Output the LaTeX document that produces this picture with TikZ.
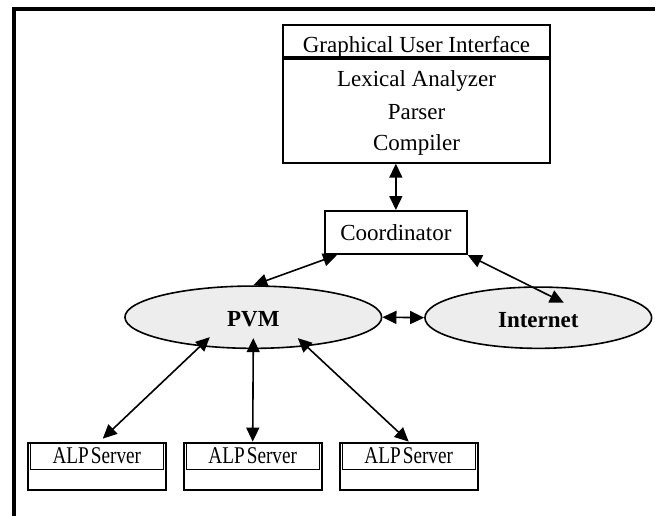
\documentclass[tikz,border=0pt]{standalone}
\usepackage{fontspec}
\setmainfont{Liberation Serif}
\newfontfamily\alpfont{Liberation Serif}[FakeStretch=0.8, WordSpace=0.45]
\usepackage{tikz}
\usetikzlibrary{arrows.meta}
\usetikzlibrary{shapes.geometric}
\definecolor{ovalgray}{gray}{0.93}
\tikzset{
  box/.style={draw, line width=2pt, inner sep=0pt},
  oval/.style={ellipse, draw, line width=1.6pt, fill=ovalgray, inner sep=0pt, text height=19pt, text depth=0pt, font=\bfseries},
  link/.style={{Triangle[length=14pt,width=13pt]}-{Triangle[length=14pt,width=13pt]}, line width=1.6pt},
  server/.style={draw, line width=2.2pt, minimum width=138pt, minimum height=47.6pt, inner sep=0pt},
  servertop/.style={draw, line width=1.1pt, minimum width=132.7pt, minimum height=27pt, inner sep=0pt, font=\alpfont\fontsize{24}{28}\selectfont}
}

\begin{document}
\begin{tikzpicture}[x=1pt,y=-1pt]
\fontsize{23}{28}\selectfont
\useasboundingbox (0,0) rectangle (655,516);
% frame
\draw[line width=4pt] (13.5,516) -- (13.5,9) -- (655,9);
% front end
\node[box, minimum width=266.7pt, minimum height=137.7pt] (gui) at (416.5,93.85) {};
\draw[line width=4pt] ([yshift=-33.7pt]gui.north west) -- ([yshift=-33.7pt]gui.north east);
\node[anchor=base] (guitext) at (416.5,53) {Graphical User Interface};
\node[anchor=base] (lexer) at (416.5,87) {Lexical Analyzer};
\node[anchor=base] (parser) at (416.5,119) {Parser};
\node[anchor=base] (compiler) at (416.5,150) {Compiler};
% coordinator and networks
\node[box, minimum width=141.7pt, minimum height=43pt] (coord) at (395.85,232.5) {Coordinator};
\node[oval, minimum width=256.7pt, minimum height=62.3pt] (pvm) at (253.3,317.2) {PVM};
\node[oval, minimum width=226.7pt, minimum height=61.3pt] (inet) at (538.3,317.7) {Internet};
% servers
\node[server] (alp1) at (96.8,466.5) {};
\node[server] (alp2) at (252.7,466.5) {};
\node[server] (alp3) at (408.7,466.5) {};
\node[servertop, anchor=north] (alp1top) at (alp1.north) {ALP Server};
\node[servertop, anchor=north] (alp2top) at (alp2.north) {ALP Server};
\node[servertop, anchor=north] (alp3top) at (alp3.north) {ALP Server};
% links
\draw[link] (coord.north) -- (coord.north |- gui.south);
\draw[link] (pvm.north) -- ([xshift=13pt]coord.south west);
\draw[link] (coord.south east) -- ([xshift=25.5pt,yshift=15pt]inet.center);
\draw[link] (pvm.east) -- (inet.west);
\draw[link] ([xshift=-43.5pt,yshift=12pt]pvm.south) -- ([xshift=6pt,yshift=3pt]alp1.north);
\draw[link] ([yshift=11pt]pvm.south) -- (alp2.north);
\draw[link] ([xshift=44.5pt,yshift=11pt]pvm.south) -- (alp3.north);
\end{tikzpicture}
\end{document}
